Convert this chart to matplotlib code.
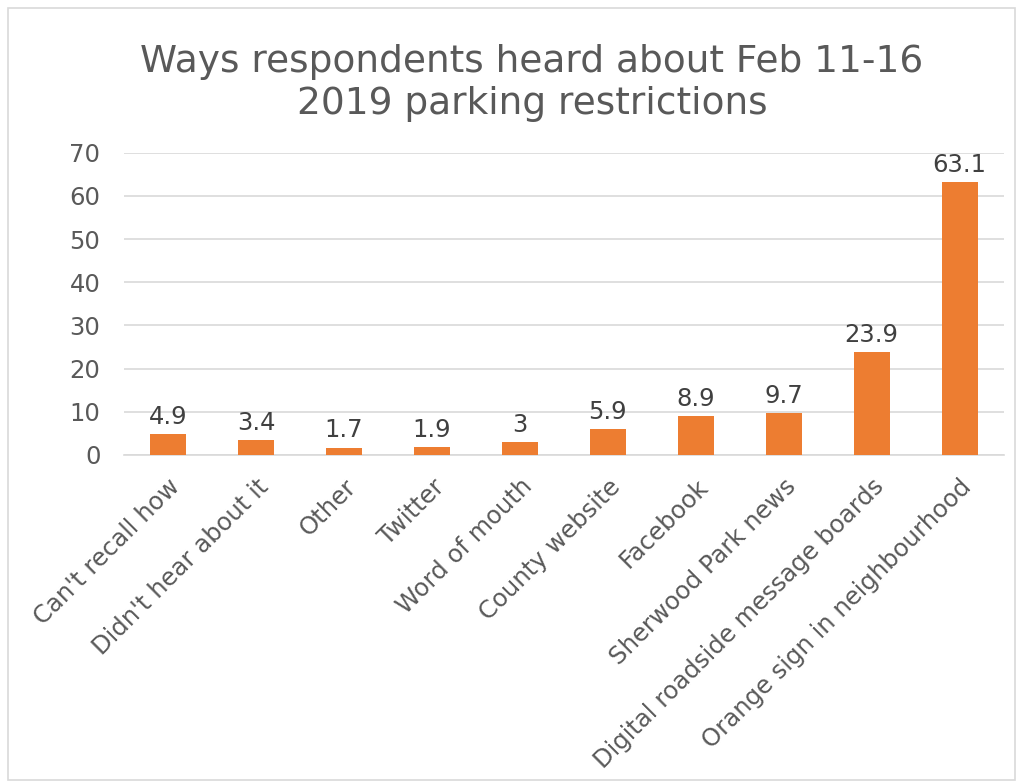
import matplotlib
matplotlib.use("Agg")
import matplotlib.pyplot as plt
from matplotlib.patches import Rectangle

categories = ["Can't recall how", "Didn't hear about it", "Other", "Twitter",
              "Word of mouth", "County website", "Facebook", "Sherwood Park news",
              "Digital roadside message boards", "Orange sign in neighbourhood"]
values = [4.9, 3.4, 1.7, 1.9, 3, 5.9, 8.9, 9.7, 23.9, 63.1]
labels = ["4.9", "3.4", "1.7", "1.9", "3", "5.9", "8.9", "9.7", "23.9", "63.1"]
yticks = [0, 10, 20, 30, 40, 50, 60, 70]
title = "Ways respondents heard about Feb 11-16\n2019 parking restrictions"

fig = plt.figure(figsize=(10.21, 7.83), dpi=100)
fig.patches.append(Rectangle((0.008, 0.004), 0.986, 0.986, transform=fig.transFigure,
                             fill=False, edgecolor="#d9d9d9", linewidth=1.2))
ax = fig.add_axes([0.1215, 0.419, 0.8615, 0.386])
x = range(len(categories))
bars = ax.bar(x, values, width=0.41, color="#ED7D31", zorder=3)
for i, (v, l) in enumerate(zip(values, labels)):
    ax.text(i, v + 1.2, l, ha="center", va="bottom", fontsize=17.5, color="#404040")
ax.set_xlim(-0.5, len(categories) - 0.5)
ax.set_ylim(0, 70)
ax.set_yticks(yticks)
ax.set_yticklabels([str(t) for t in yticks], fontsize=17.5, color="#595959")
ax.set_xticks(list(x))
ax.set_xticklabels(categories, rotation=45, ha="right", rotation_mode="anchor",
                   fontsize=17.5, color="#595959")
ax.tick_params(axis="x", length=0, pad=14)
ax.tick_params(axis="y", length=0, pad=17)
ax.grid(axis="y", color="#d9d9d9", linewidth=1.2, zorder=0)
for s in ["top", "right", "left"]:
    ax.spines[s].set_visible(False)
ax.spines["bottom"].set_color("#d9d9d9")
ax.spines["bottom"].set_linewidth(1.2)
fig.text(0.521, 0.894, title, ha="center", va="center", fontsize=27,
         color="#595959", linespacing=1.2)
fig.savefig("out.png", dpi=100)
